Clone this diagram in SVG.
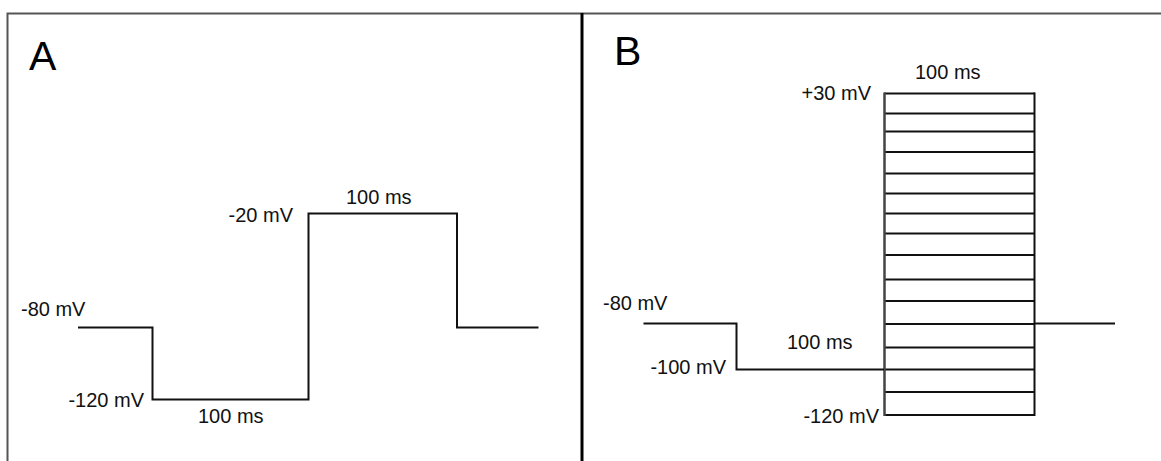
<svg xmlns="http://www.w3.org/2000/svg" width="1161" height="461" viewBox="0 0 1161 461">
  <style>
    .frame { fill: none; stroke: #555; stroke-width: 2; }
    .divider { fill: none; stroke: #000; stroke-width: 3; }
    .wave { fill: none; stroke: #111; stroke-width: 2; stroke-linejoin: miter; }
    .step { fill: none; stroke: #111; stroke-width: 2; }
    .boxleft { fill: none; stroke: #444; stroke-width: 2.5; }
    .lbl { font-family: "Liberation Sans", Arial, sans-serif; font-size: 20px; fill: #111; }
    .title { font-family: "Liberation Sans", Arial, sans-serif; font-size: 41px; fill: #000; }
    .end { text-anchor: end; }
  </style>
  <rect width="1161" height="461" fill="#fff"/>
  <g id="frame">
    <path class="frame" d="M7.5,470 V13.5 H1170"/>
    <line class="divider" x1="582" y1="13" x2="582" y2="470"/>
  </g>
  <g id="panel-a">
    <text class="title" x="29" y="70">A</text>
    <path class="wave" d="M78,327.5 H152.5 V399.5 H308.5 V213.5 H457 V327.5 H538.5"/>
    <text class="lbl" x="21" y="316">-80 mV</text>
    <text class="lbl end" x="144" y="407">-120 mV</text>
    <text class="lbl" x="198" y="423">100 ms</text>
    <text class="lbl end" x="293" y="222">-20 mV</text>
    <text class="lbl" x="346" y="204">100 ms</text>
  </g>
  <g id="panel-b">
    <text class="title" x="614" y="65">B</text>
    <g id="steps">
      <line class="step" x1="884" y1="93.5" x2="1035" y2="93.5"/>
      <line class="step" x1="884" y1="113.5" x2="1035" y2="113.5"/>
      <line class="step" x1="884" y1="131.5" x2="1035" y2="131.5"/>
      <line class="step" x1="884" y1="152" x2="1035" y2="152"/>
      <line class="step" x1="884" y1="173.5" x2="1035" y2="173.5"/>
      <line class="step" x1="884" y1="193.5" x2="1035" y2="193.5"/>
      <line class="step" x1="884" y1="213.5" x2="1035" y2="213.5"/>
      <line class="step" x1="884" y1="233.5" x2="1035" y2="233.5"/>
      <line class="step" x1="884" y1="255" x2="1035" y2="255"/>
      <line class="step" x1="884" y1="279.5" x2="1035" y2="279.5"/>
      <line class="step" x1="884" y1="301" x2="1035" y2="301"/>
      <line class="step" x1="884" y1="324" x2="1035" y2="324"/>
      <line class="step" x1="884" y1="347.5" x2="1035" y2="347.5"/>
      <line class="step" x1="884" y1="369.5" x2="1035" y2="369.5"/>
      <line class="step" x1="884" y1="392" x2="1035" y2="392"/>
      <line class="step" x1="884" y1="415" x2="1035" y2="415"/>
      <line class="boxleft" x1="884.5" y1="92.5" x2="884.5" y2="416"/>
      <line class="step" x1="1034.5" y1="92.5" x2="1034.5" y2="416"/>
    </g>
    <path class="wave" d="M643.5,323.5 H736.5 V369.5 H884"/>
    <line class="step" x1="1034" y1="323.5" x2="1115" y2="323.5"/>
    <text class="lbl" x="915" y="79">100 ms</text>
    <text class="lbl end" x="871" y="100">+30 mV</text>
    <text class="lbl" x="603" y="310">-80 mV</text>
    <text class="lbl" x="787" y="349">100 ms</text>
    <text class="lbl end" x="726" y="374">-100 mV</text>
    <text class="lbl end" x="879" y="422.5">-120 mV</text>
  </g>
</svg>
